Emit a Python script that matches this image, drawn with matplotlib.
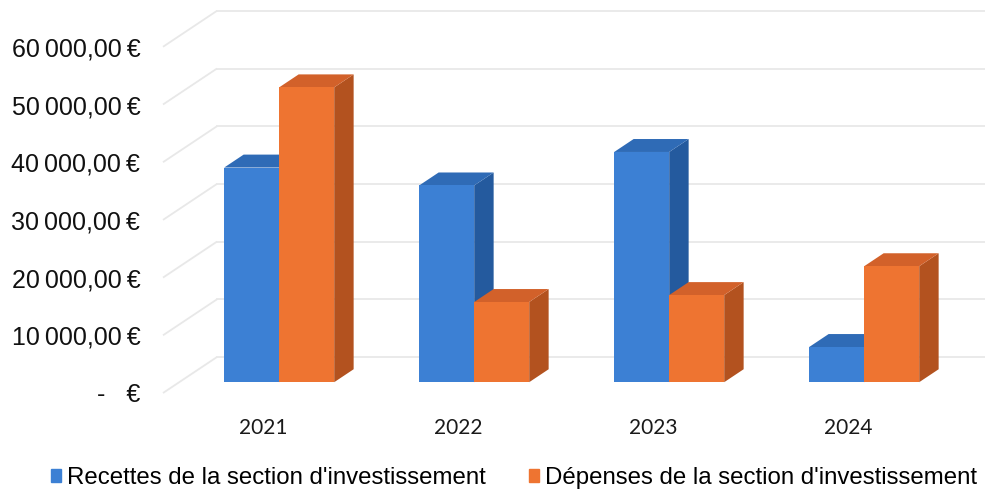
import matplotlib
matplotlib.use("Agg")
import matplotlib.pyplot as plt
from matplotlib.patches import Polygon, Patch

# ---------------- data ----------------
years = ["2021", "2022", "2023", "2024"]
recettes = [37200, 34100, 39900, 6100]
depenses = [51100, 13900, 15100, 20100]
series_names = ["Recettes de la section d'investissement",
                "Dépenses de la section d'investissement"]
yticks = [0, 10000, 20000, 30000, 40000, 50000, 60000]
ytick_labels = ["-   €", "10\u202f000,00\u202f€", "20\u202f000,00\u202f€",
                "30\u202f000,00\u202f€", "40\u202f000,00\u202f€",
                "50\u202f000,00\u202f€", "60\u202f000,00\u202f€"]

# ---------------- styles ----------------
front_cols = ["#3C80D4", "#EE7431"]
top_cols = ["#2F6BB6", "#D2612A"]
side_cols = ["#245A9E", "#B3521F"]
grid_col = "#E8E8E8"
FAM = ["Liberation Sans", "DejaVu Sans"]

W, H = 987, 495
fig = plt.figure(figsize=(W / 100, H / 100), dpi=100)

# pixel layout of the axes
L, R, T, B = 150, 985, 5, 400
ax = fig.add_axes([L / W, (H - B) / H, (R - L) / W, (B - T) / H])
X0_PX, CAT_PX = 263, 195      # pixel of category 0 (front plane), px per category
Y0_PX, PX_PER_UNIT = 393, 57.7 / 10000
ax.set_xlim((L - X0_PX) / CAT_PX, (R - X0_PX) / CAT_PX)
ax.set_ylim((Y0_PX - B) / PX_PER_UNIT, (Y0_PX - T) / PX_PER_UNIT)

# depth of the floor, in data units
DX = 54 / CAT_PX
DY = 36 / PX_PER_UNIT
f1, f2 = 0.30, 0.66          # bar front / back depth fraction
bar_w = 55 / CAT_PX
floor_left = (163 - X0_PX) / CAT_PX
right_end = (R - X0_PX) / CAT_PX

# walls: gridlines
for v in yticks:
    ax.plot([floor_left, floor_left + DX], [v, v + DY], color=grid_col, lw=1.3,
            zorder=1, solid_capstyle="butt")
    ax.plot([floor_left + DX, right_end], [v + DY, v + DY], color=grid_col,
            lw=1.3, zorder=1)

# bars
ddx = (f2 - f1) * DX
ddy = (f2 - f1) * DY
z = 2
for i in range(len(years)):
    for s, vals in enumerate([recettes, depenses]):
        v = vals[i]
        x0 = i - bar_w + s * bar_w + f1 * DX
        b = f1 * DY
        side = Polygon([(x0 + bar_w, b), (x0 + bar_w + ddx, b + ddy),
                        (x0 + bar_w + ddx, b + v + ddy), (x0 + bar_w, b + v)],
                       closed=True, fc=side_cols[s], ec="none", zorder=z)
        top = Polygon([(x0, b + v), (x0 + bar_w, b + v),
                       (x0 + bar_w + ddx, b + v + ddy), (x0 + ddx, b + v + ddy)],
                      closed=True, fc=top_cols[s], ec="none", zorder=z)
        ax.add_patch(side)
        ax.add_patch(top)
        ax.bar(x0, v, width=bar_w, bottom=b, align="edge", color=front_cols[s],
               edgecolor="none", zorder=z + 0.5)
        z += 1

for sp in ax.spines.values():
    sp.set_visible(False)
ax.set_yticks(yticks)
ax.set_yticklabels(ytick_labels, family=FAM, fontsize=18, color="#111111")
ax.set_xticks(range(len(years)))
ax.set_xticklabels(years, family=["Lato", "DejaVu Sans"], fontsize=15,
                   color="#1a1a1a")
ax.tick_params(axis="y", length=0, pad=7)
ax.tick_params(axis="x", length=0, pad=13)
ax.patch.set_alpha(0)

handles = [Patch(color=front_cols[0]), Patch(color=front_cols[1])]
fig.legend(handles, series_names, loc="center", bbox_to_anchor=(0.5205, 1 - 478 / H),
           ncol=2, frameon=False, handlelength=0.42, handleheight=0.42,
           handletextpad=0.25, columnspacing=1.8,
           prop={"family": FAM, "size": 17.3})

fig.savefig("out.png", dpi=100, facecolor="white")
